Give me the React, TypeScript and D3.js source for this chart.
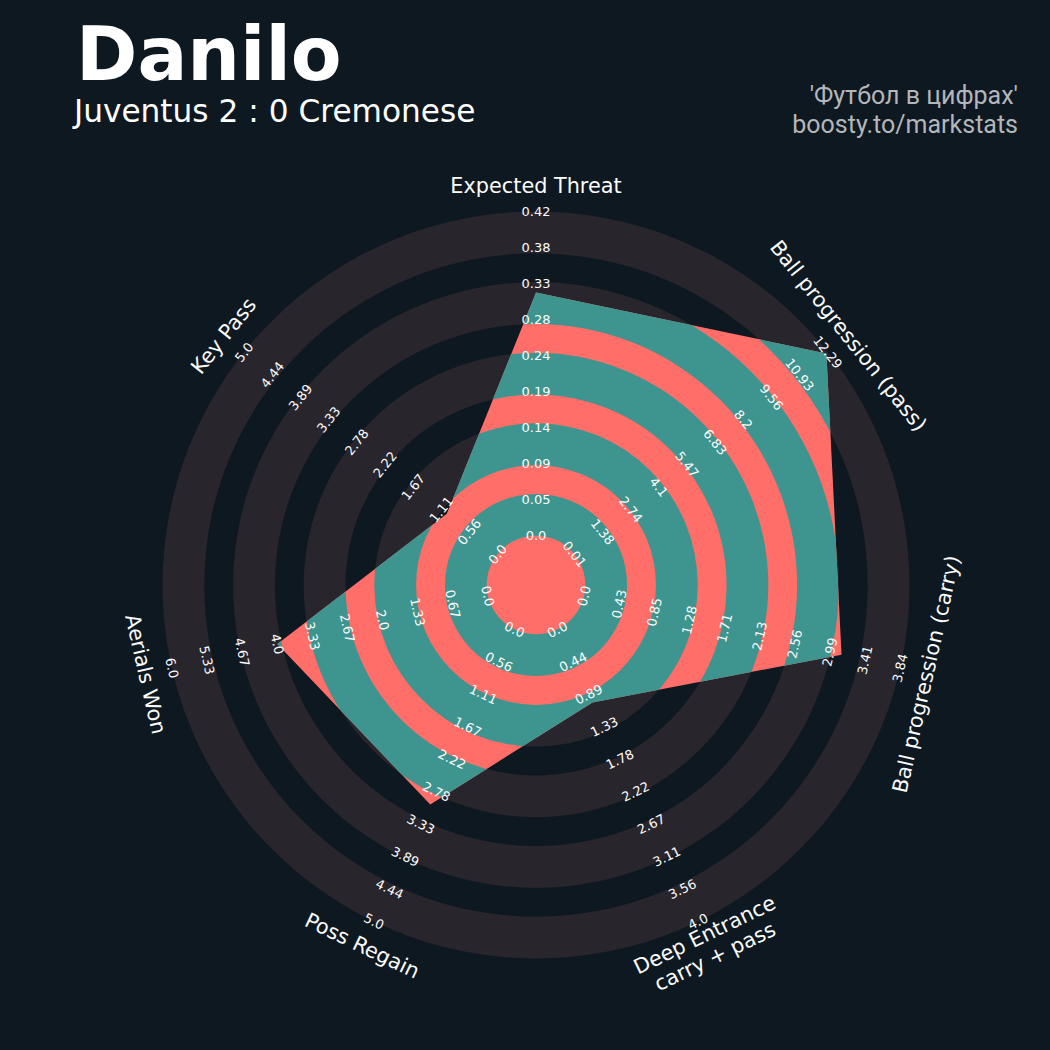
import React from "react";
import * as d3 from "d3";

const PARAMS = [
  "Expected Threat",
  "Ball progression (pass)",
  "Ball progression (carry)",
  "Deep Entrance\ncarry + pass",
  "Poss Regain",
  "Aerials Won",
  "Key Pass",
];
const LOW = [0, 0.01, 0, 0, 0, 0, 0];
const HIGH = [0.4225, 12.29, 3.84, 4, 5, 6, 5];
const VALUES = [0.317, 12.22, 3.13, 1, 3, 4, 1];
const RANGE_LABELS = [
  ["0.0", "0.05", "0.09", "0.14", "0.19", "0.24", "0.28", "0.33", "0.38", "0.42"],
  ["0.01", "1.38", "2.74", "4.1", "5.47", "6.83", "8.2", "9.56", "10.93", "12.29"],
  ["0.0", "0.43", "0.85", "1.28", "1.71", "2.13", "2.56", "2.99", "3.41", "3.84"],
  ["0.0", "0.44", "0.89", "1.33", "1.78", "2.22", "2.67", "3.11", "3.56", "4.0"],
  ["0.0", "0.56", "1.11", "1.67", "2.22", "2.78", "3.33", "3.89", "4.44", "5.0"],
  ["0.0", "0.67", "1.33", "2.0", "2.67", "3.33", "4.0", "4.67", "5.33", "6.0"],
  ["0.0", "0.56", "1.11", "1.67", "2.22", "2.78", "3.33", "3.89", "4.44", "5.0"],
];
const TITLE = "Danilo";
const SUBTITLE = "Juventus 2 : 0 Cremonese";
const CREDIT = ["'Футбол в цифрах'", "boosty.to/markstats"];

const W = 1050;
const H = 1050;
const CX = 536;
const CY = 585;
const R_IN = 49.3;
const R_OUT = 373.3;
const RING_W = 41.8;
const GAP_W = 28.8;
const N_RINGS = 5;
const LABEL_R = 400;

const BG = "#0e1821";
const RING_BG = "#28252c";
const RADAR = "#ff6e68";
const RADAR_RING = "#3e958f";
const FONT = "DejaVu Sans";

function rotationFor(aDeg: number) {
  let rot = -aDeg;
  if (rot < -270) rot += 360;
  else if (rot < -90) rot += 180;
  return -rot; // svg clockwise positive
}

export default function App() {
  const n = PARAMS.length;
  const step = (2 * Math.PI) / n;
  const scales = PARAMS.map((_, i) =>
    d3.scaleLinear().domain([LOW[i], HIGH[i]]).range([R_IN, R_OUT])
  );
  const pos = (a: number, r: number) => [CX + r * Math.sin(a), CY - r * Math.cos(a)];

  const arc = d3.arc<any>();
  const rings = d3.range(N_RINGS).map((k) => {
    const inner = R_IN + k * (RING_W + GAP_W);
    return arc({
      innerRadius: inner,
      outerRadius: inner + RING_W,
      startAngle: 0,
      endAngle: 2 * Math.PI,
    }) as string;
  });

  const radial = d3
    .lineRadial<number>()
    .angle((_, i) => i * step)
    .radius((d, i) => scales[i](d))
    .curve(d3.curveLinearClosed);
  const polyPath = radial(VALUES) as string;

  return (
    <svg
      width={W}
      height={H}
      style={{ position: "absolute", left: 0, top: 0, display: "block" }}
    >
      <rect x={0} y={0} width={W} height={H} fill={BG} />
      <defs>
        <clipPath id="radarClip">
          <path d={polyPath} transform={`translate(${CX},${CY})`} />
        </clipPath>
      </defs>
      <g transform={`translate(${CX},${CY})`}>
        {rings.map((d, k) => (
          <path key={k} d={d} fill={RING_BG} />
        ))}
        <path d={polyPath} fill={RADAR} />
      </g>
      <g clipPath="url(#radarClip)">
        <g transform={`translate(${CX},${CY})`}>
          {rings.map((d, k) => (
            <path key={k} d={d} fill={RADAR_RING} />
          ))}
        </g>
      </g>

      {/* range labels */}
      {PARAMS.map((_, i) => {
        const a = i * step;
        const rot = rotationFor((a * 180) / Math.PI);
        return RANGE_LABELS[i].map((lab, k) => {
          const v = LOW[i] + (k * (HIGH[i] - LOW[i])) / 9;
          const [x, y] = pos(a, scales[i](v));
          return (
            <text
              key={`${i}-${k}`}
              x={0}
              y={0}
              transform={`translate(${x},${y}) rotate(${rot})`}
              textAnchor="middle"
              dy="0.36em"
              fontFamily={FONT}
              fontSize={13}
              fill="#fcfcfc"
            >
              {lab}
            </text>
          );
        });
      })}

      {/* parameter labels */}
      {PARAMS.map((p, i) => {
        const a = i * step;
        const rot = rotationFor((a * 180) / Math.PI);
        const [x, y] = pos(a, LABEL_R);
        const lines = p.split("\n");
        const lh = 24;
        return (
          <text
            key={p}
            transform={`translate(${x},${y}) rotate(${rot})`}
            textAnchor="middle"
            fontFamily={FONT}
            fontSize={20.8}
            fill="#fcfcfc"
          >
            {lines.map((l, j) => (
              <tspan
                key={j}
                x={0}
                y={(j - (lines.length - 1) / 2) * lh}
                dy="0.36em"
              >
                {l}
              </tspan>
            ))}
          </text>
        );
      })}

      <text x={76} y={80} fontFamily={FONT} fontWeight="bold" fontSize={74} fill="#ffffff">
        {TITLE}
      </text>
      <text x={74} y={122} fontFamily={FONT} fontSize={31.2} fill="#ffffff">
        {SUBTITLE}
      </text>
      {CREDIT.map((c, j) => (
        <text
          key={c}
          x={1018}
          y={104 + j * 28.5}
          textAnchor="end"
          fontFamily="Roboto"
          fontSize={25}
          fill="#b3b6ba"
        >
          {c}
        </text>
      ))}
    </svg>
  );
}
